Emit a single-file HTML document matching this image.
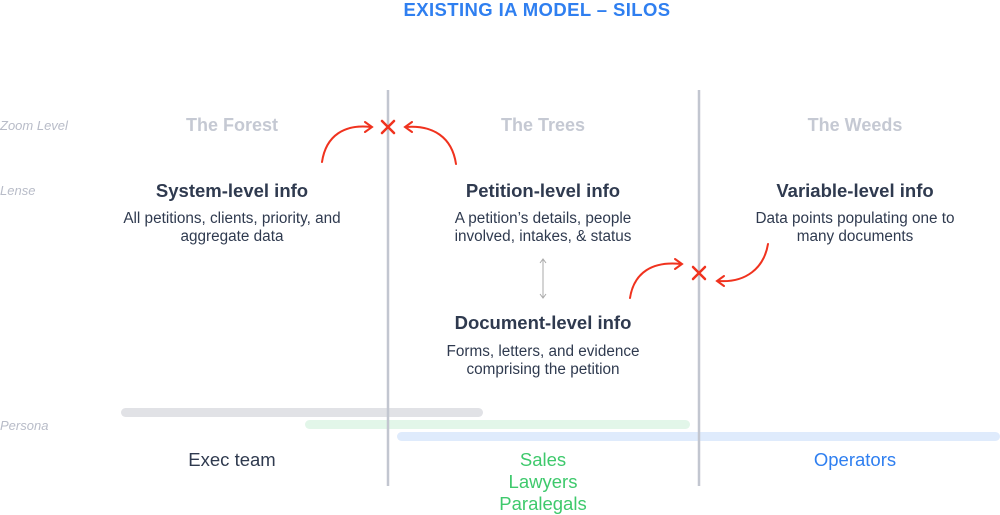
<!DOCTYPE html>
<html><head><meta charset="utf-8"><style>
body{margin:0;width:1000px;height:514px;background:#fff;position:relative;overflow:hidden;font-family:"Liberation Sans",sans-serif}
.a{position:absolute;white-space:nowrap}
.c{transform:translateX(-50%);text-align:center}
.side{font-style:italic;color:#b8bcc8;font-size:13px;left:0}
.zoom{color:#c5c9d3;font-weight:bold;font-size:18px}
.h{color:#2f3a4f;font-weight:bold;font-size:18.5px}
.d{color:#2f3a4f;font-size:15.3px;line-height:18px}
.bar{position:absolute;height:9px;border-radius:5px}
.p{font-size:18.5px;line-height:22px}
</style></head><body>
<div class="a c" style="left:537px;top:-1px;color:#2f7ff0;font-weight:bold;font-size:18.5px;letter-spacing:0.4px">EXISTING IA MODEL – SILOS</div>
<div class="a side" style="top:118px">Zoom Level</div>
<div class="a side" style="top:183px">Lense</div>
<div class="a side" style="top:418px">Persona</div>
<div class="a c zoom" style="left:232px;top:115px">The Forest</div>
<div class="a c zoom" style="left:543px;top:115px">The Trees</div>
<div class="a c zoom" style="left:855px;top:115px">The Weeds</div>
<div class="a c h" style="left:232px;top:180px">System-level info</div>
<div class="a c d" style="left:232px;top:210px">All petitions, clients, priority, and<br>aggregate data</div>
<div class="a c h" style="left:543px;top:180px">Petition-level info</div>
<div class="a c d" style="left:543px;top:210px">A petition’s details, people<br>involved, intakes, &amp; status</div>
<div class="a c h" style="left:855px;top:180px">Variable-level info</div>
<div class="a c d" style="left:855px;top:210px">Data points populating one to<br>many documents</div>
<div class="a c h" style="left:543px;top:312px">Document-level info</div>
<div class="a c d" style="left:543px;top:343px">Forms, letters, and evidence<br>comprising the petition</div>
<div class="bar" style="left:121px;top:408px;width:362px;background:#e1e2e6"></div>
<div class="bar" style="left:305px;top:420px;width:385px;background:#e2f6e9"></div>
<div class="bar" style="left:397px;top:432px;width:603px;background:#dfebfc"></div>
<svg class="a" style="left:0;top:0" width="1000" height="514">
<line x1="388" y1="90" x2="388" y2="486" stroke="#c2c6d0" stroke-width="2.5"/>
<line x1="699" y1="90" x2="699" y2="486" stroke="#c2c6d0" stroke-width="2.5"/>
<g stroke="#aaa" stroke-width="1" fill="none"><line x1="543" y1="260" x2="543" y2="297"/><path d="M540 263 L543 259 L546 263 M540 294 L543 298 L546 294"/></g>
<g stroke="#f0321e" stroke-width="2" fill="none" stroke-linecap="round">
<path d="M322 162 C326 135 345 124 371 127"/><path d="M365 122 L372 127 L365 132"/>
<path d="M456 164 C452 137 433 125 406 127"/><path d="M412 122 L405 127 L412 132"/>
<path d="M382 121 L394 133 M394 121 L382 133" stroke-width="2.5"/>
<path d="M630 298 C634 272 653 261 681 264"/><path d="M675 259 L682 264 L675 269"/>
<path d="M768 244 C764 268 746 283 718 281"/><path d="M724 276 L717 281 L724 286"/>
<path d="M693 267 L705 279 M705 267 L693 279" stroke-width="2.5"/>
</g></svg>
<div class="a c p" style="left:232px;top:449px;color:#2f3a4f">Exec team</div>
<div class="a c p" style="left:543px;top:449px;color:#3ec96c">Sales<br>Lawyers<br>Paralegals</div>
<div class="a c p" style="left:855px;top:449px;color:#2f7ff0">Operators</div>
</body></html>
